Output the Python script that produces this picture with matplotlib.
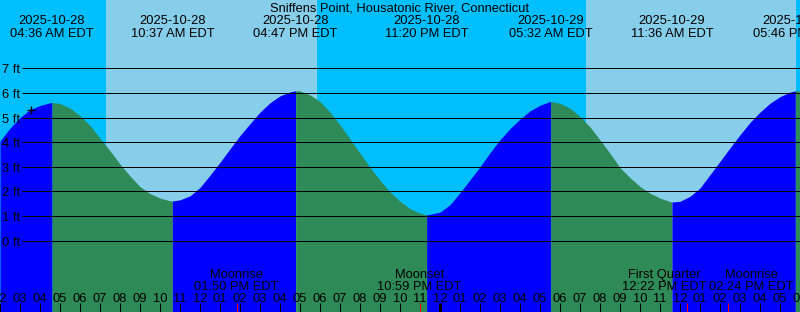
import matplotlib
matplotlib.use("Agg")
import matplotlib.pyplot as plt
import matplotlib.transforms as mtransforms
import numpy as np

plt.rcParams['font.family'] = ['Liberation Sans', 'DejaVu Sans']

title = "Sniffens Point, Housatonic River, Connecticut"

# Tide extremes (hours since 2025-10-28 00:00 EDT)
tide_dates = ["2025-10-28", "2025-10-28", "2025-10-28", "2025-10-28",
              "2025-10-29", "2025-10-29", "2025-10-29"]
tide_times = ["04:36 AM EDT", "10:37 AM EDT", "04:47 PM EDT", "11:20 PM EDT",
              "05:32 AM EDT", "11:36 AM EDT", "05:46 PM EDT"]
tide_hours = [4.600, 10.617, 16.783, 23.333, 29.533, 35.600, 41.767]
tide_heights = [5.61, 1.61, 6.09, 1.05, 5.65, 1.57, 6.09]

# Half-hourly readings of the tide curve (02:00 on 10/28 to 18:00 on 10/29)
curve_hours = list(np.arange(2.0, 42.01, 0.5))
curve_heights = [
    4.05, 4.57, 5.00, 5.32, 5.49, 5.60, 5.57, 5.38, 5.08, 4.68,
    4.16, 3.65, 3.11, 2.63, 2.20, 1.91, 1.73, 1.62, 1.66, 1.82,
    2.16, 2.66, 3.18, 3.73, 4.27, 4.75, 5.22, 5.60, 5.88, 6.04,
    6.08, 5.92, 5.65, 5.22, 4.70, 4.13, 3.55, 2.98, 2.45, 1.98,
    1.60, 1.30, 1.12, 1.07, 1.16, 1.46, 1.95, 2.47, 3.00, 3.57,
    4.10, 4.55, 4.94, 5.27, 5.50, 5.65, 5.58, 5.38, 5.04, 4.62,
    4.09, 3.55, 2.97, 2.56, 2.20, 1.93, 1.73, 1.59, 1.60, 1.80,
    2.14, 2.68, 3.22, 3.77, 4.30, 4.80, 5.22, 5.58, 5.85, 6.03,
    6.08]

# Moon events
moon_names = ["Moonrise", "Moonset", "First Quarter", "Moonrise"]
moon_times = ["01:50 PM EDT", "10:59 PM EDT", "12:22 PM EDT", "02:24 PM EDT"]
moon_hours = [13.833, 22.983, 36.367, 38.400]

# Daylight
sunrise_hours = [7.30, 31.28]
sunset_hours = [17.85, 41.79]

# Current time marker
now_hour = 3.525
now_height = 5.29

feet_levels = [0, 1, 2, 3, 4, 5, 6, 7]

# ---------------------------------------------------------------
W, H = 800, 312
fig = plt.figure(figsize=(W / 100, H / 100), dpi=100)
ax = fig.add_axes([0, 0, 1, 1])
ax.set_xlim(2, 42)
ax.set_ylim(-2.895, 9.773)
ax.axis('off')
ax.add_patch(plt.Rectangle((0, 0), 1, 1, transform=ax.transAxes,
                           facecolor='#00BFFF', zorder=0))

for sr, ss in zip(sunrise_hours, sunset_hours):
    ax.axvspan(sr, ss, color='#87CEEB', zorder=1, lw=0)

t = np.array(curve_hours + tide_hours, dtype=float)
h = np.array(curve_heights + tide_heights, dtype=float)
order = np.argsort(t)
t, h = t[order], h[order]

bounds = [2.0] + tide_hours + [42.0]
for a, b in zip(bounds[:-1], bounds[1:]):
    m = (t >= a - 1e-9) & (t <= b + 1e-9)
    seg_t, seg_h = t[m], h[m]
    color = '#0000FF' if seg_h[-1] > seg_h[0] else '#2E8B57'
    ax.fill_between(seg_t, seg_h, -5, color=color, lw=0, zorder=2,
                    antialiased=False)

px = 0.72  # one pixel in points
ax.hlines(feet_levels, 2 + 22 / 20, 42, color='black', lw=px, zorder=3)

trans = mtransforms.blended_transform_factory(ax.transData, ax.transAxes)


def yf(ypx):
    return 1 - ypx / H


fs = 9.3
for lv in feet_levels:
    ypx = 240.7 - lv * 24.63 + 5
    ax.text(2 + 2.5 / 20, yf(ypx), f"{lv} ft", transform=trans, ha='left',
            va='baseline', fontsize=fs, zorder=5)

ax.plot([now_hour], [now_height], marker='+', color='black', ms=6, mew=1,
        zorder=6)

ax.text(0.5, yf(11.7), title, transform=ax.transAxes, ha='center',
        va='baseline', fontsize=fs, zorder=5)
for d, tm, th in zip(tide_dates, tide_times, tide_hours):
    ax.text(th, yf(24.3), d, transform=trans, ha='center', va='baseline',
            fontsize=fs, zorder=5)
    ax.text(th, yf(36.7), tm, transform=trans, ha='center', va='baseline',
            fontsize=fs, zorder=5)

# hour ticks and labels
hours = np.arange(2, 43)
for hr in hours:
    lab = f"{(hr % 12) or 12:02d}"
    ax.text(hr, yf(302.3), lab, transform=trans, ha='center', va='baseline',
            fontsize=fs, zorder=5)
ax.vlines(hours, yf(312), yf(303), transform=trans, color='black', lw=px,
          zorder=4)
ax.vlines([24], yf(312), yf(303), transform=trans, color='black', lw=3 * px,
          zorder=4)
ax.vlines(moon_hours, yf(312), yf(303), transform=trans, color='red', lw=px,
          zorder=4)

label_shift = [0.0, 0.0, -1.13, 1.17]
for nm, tm, mh, sh in zip(moon_names, moon_times, moon_hours, label_shift):
    ax.text(mh + sh, yf(278.3), nm, transform=trans, ha='center',
            va='baseline', fontsize=fs, zorder=5)
    ax.text(mh + sh, yf(290.3), tm, transform=trans, ha='center',
            va='baseline', fontsize=fs, zorder=5)

fig.savefig("out.png", dpi=100)
